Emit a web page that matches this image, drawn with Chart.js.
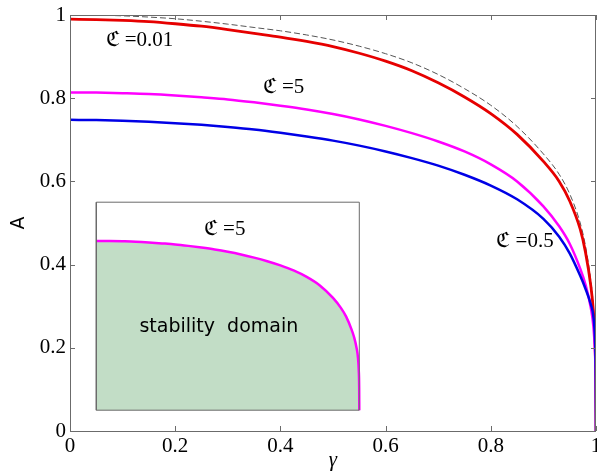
<!DOCTYPE html>
<html>
<head>
<meta charset="utf-8">
<script src="https://cdn.jsdelivr.net/npm/chart.js@4.4.0/dist/chart.umd.min.js"></script>
<style>
  html, body { margin: 0; padding: 0; background: #fff; }
  #wrap { width: 597px; height: 473px; }
</style>
</head>
<body>
<div id="wrap"><canvas id="stab"></canvas></div>
<script>
// gamma grid and A(gamma)
var gamma   = [0, 0.05, 0.1, 0.15, 0.2, 0.25, 0.3, 0.35, 0.4, 0.45, 0.5, 0.55, 0.6, 0.65, 0.7, 0.75, 0.8, 0.85, 0.9, 0.93, 0.95, 0.97, 0.98, 0.99, 0.995, 0.998, 0.9995, 1];
var aLimit  = [1.000, 0.9995, 0.998, 0.995, 0.991, 0.985, 0.978, 0.970, 0.962, 0.952, 0.940, 0.925, 0.907, 0.885, 0.857, 0.823, 0.783, 0.732, 0.666, 0.617, 0.570, 0.500, 0.445, 0.363, 0.300, 0.225, 0.130, 0];
var aC001   = [0.990, 0.989, 0.987, 0.984, 0.979, 0.973, 0.965, 0.956, 0.947, 0.9365, 0.924, 0.908, 0.889, 0.866, 0.837, 0.803, 0.763, 0.713, 0.648, 0.600, 0.553, 0.485, 0.430, 0.350, 0.288, 0.215, 0.120, 0];
var aC5     = [0.814, 0.8135, 0.812, 0.810, 0.8065, 0.802, 0.797, 0.790, 0.782, 0.773, 0.762, 0.749, 0.7335, 0.716, 0.696, 0.672, 0.641, 0.600, 0.540, 0.492, 0.450, 0.390, 0.352, 0.297, 0.252, 0.190, 0.110, 0];
var aC05    = [0.748, 0.7475, 0.746, 0.7435, 0.740, 0.736, 0.731, 0.725, 0.717, 0.708, 0.698, 0.686, 0.672, 0.656, 0.638, 0.616, 0.590, 0.557, 0.510, 0.467, 0.427, 0.373, 0.342, 0.305, 0.275, 0.220, 0.130, 0];
var xTicks  = [0, 0.2, 0.4, 0.6, 0.8, 1];
var yTicks  = [0, 0.2, 0.4, 0.6, 0.8, 1];

// inset: the C=5 curve redrawn in a small box (offset + scale in axis units)
var inset = { x0: 0.05, y0: 0.05, s: 0.5 };

var serif = '"Liberation Serif", "DejaVu Serif", serif';
var notes = [
  { text: 'ℭ =0.01', x: 0.132, y: 0.939, font: '21px ' + serif },
  { text: 'ℭ =5',    x: 0.406, y: 0.825, font: '21px ' + serif },
  { text: 'ℭ =0.5',  x: 0.865, y: 0.455, font: '21px ' + serif },
  { text: 'ℭ =5',    x: 0.294, y: 0.484, font: '21px ' + serif },
  { text: 'stability  domain', x: 0.283, y: 0.250, font: '19px "DejaVu Sans", sans-serif' }
];

function pts(xs, ys) {
  return xs.map(function (x, i) { return { x: x, y: ys[i] }; });
}
function toInset(p) {
  return { x: inset.x0 + inset.s * p.x, y: inset.y0 + inset.s * p.y };
}

var insetCurve = pts(gamma, aC5).map(toInset);
var insetBox = pts([0, 1, 1, 0, 0], [0, 0, 1, 1, 0]).map(toInset);

var frameTicks = {
  id: 'frameTicks',
  afterDatasetsDraw: function (chart) {
    var c = chart.ctx, a = chart.chartArea;
    var xs = chart.scales.x, ys = chart.scales.y;
    c.save();
    c.strokeStyle = '#6b6b6b';
    c.lineWidth = 1;
    c.strokeRect(a.left + 0.5, a.top + 0.5, a.right - a.left - 1, a.bottom - a.top);
    c.beginPath();
    xTicks.forEach(function (v) {
      var px = Math.round(xs.getPixelForValue(v)) + 0.5;
      c.moveTo(px, a.bottom); c.lineTo(px, a.bottom - 5);
      c.moveTo(px, a.top); c.lineTo(px, a.top + 5);
    });
    yTicks.forEach(function (v) {
      var py = Math.round(ys.getPixelForValue(v)) + 0.5;
      c.moveTo(a.left, py); c.lineTo(a.left + 5, py);
      c.moveTo(a.right, py); c.lineTo(a.right - 5, py);
    });
    c.stroke();
    c.fillStyle = '#000';
    c.textAlign = 'center';
    c.textBaseline = 'middle';
    notes.forEach(function (n) {
      c.font = n.font;
      c.fillText(n.text, xs.getPixelForValue(n.x), ys.getPixelForValue(n.y));
    });
    c.restore();
  }
};

function noPad(scale) {
  scale.paddingLeft = 0; scale.paddingRight = 0;
  scale.paddingTop = 0; scale.paddingBottom = 0;
}
function plain(v) { return String(Math.round(v * 10) / 10); }

new Chart(document.getElementById('stab'), {
  type: 'line',
  data: {
    datasets: [
      { data: insetBox, borderColor: '#6b6b6b', borderWidth: 1, tension: 0, order: 1 },
      { data: insetCurve, borderColor: '#ff00ff', borderWidth: 2.5, fill: { value: inset.y0 },
        backgroundColor: 'rgb(194,221,198)', cubicInterpolationMode: 'monotone', order: 2 },
      { data: pts(gamma, aC05), borderColor: '#0000e6', borderWidth: 2.5, cubicInterpolationMode: 'monotone', order: 3 },
      { data: pts(gamma, aC5), borderColor: '#ff00ff', borderWidth: 2.5, cubicInterpolationMode: 'monotone', order: 4 },
      { data: pts(gamma, aC001), borderColor: '#e60000', borderWidth: 2.8, cubicInterpolationMode: 'monotone', order: 5 },
      { data: pts(gamma, aLimit), borderColor: '#555', borderWidth: 1, borderDash: [6, 3], cubicInterpolationMode: 'monotone', order: 6 }
    ]
  },
  options: {
    responsive: true,
    maintainAspectRatio: false,
    animation: false,
    events: [],
    elements: { point: { radius: 0 } },
    layout: { padding: { top: 15, right: 1, left: 0, bottom: 0 } },
    plugins: { legend: { display: false }, tooltip: { enabled: false } },
    scales: {
      x: {
        type: 'linear', min: 0, max: 1,
        grid: { display: false, drawTicks: false, tickLength: 0 }, border: { display: false },
        afterBuildTicks: function (s) { s.ticks = xTicks.map(function (v) { return { value: v }; }); },
        ticks: { autoSkip: false, maxRotation: 0, padding: 3, color: '#000', callback: plain,
                 font: { family: serif, size: 21 } },
        title: { display: true, text: 'γ', color: '#000', padding: { top: 0, bottom: 0 },
                 font: { family: serif, size: 21, style: 'italic' } },
        afterFit: function (s) { s.height = 42; noPad(s); }
      },
      y: {
        type: 'linear', min: 0, max: 1,
        grid: { display: false, drawTicks: false, tickLength: 0 }, border: { display: false },
        afterBuildTicks: function (s) { s.ticks = yTicks.map(function (v) { return { value: v }; }); },
        ticks: { autoSkip: false, padding: 4, color: '#000', callback: plain,
                 font: { family: serif, size: 21 } },
        title: { display: true, text: 'A', color: '#000', padding: { top: 8, bottom: 0 },
                 font: { family: '"DejaVu Sans", sans-serif', size: 19 } },
        afterFit: function (s) { s.width = 70; noPad(s); }
      }
    }
  },
  plugins: [frameTicks]
});
</script>
</body>
</html>
